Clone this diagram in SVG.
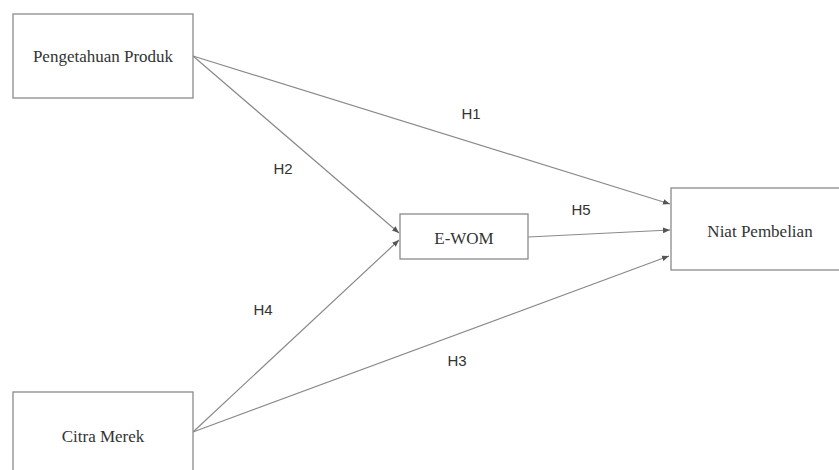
<svg xmlns="http://www.w3.org/2000/svg" width="839" height="470" viewBox="0 0 839 470">
<defs>
<marker id="arr" viewBox="0 0 10 10" refX="10" refY="5" markerWidth="7" markerHeight="7" orient="auto" markerUnits="userSpaceOnUse">
<path d="M0,1 L10,5 L0,9 z" fill="#555"/>
</marker>
<style>
.box{fill:#fff;stroke:#8a8a8a;stroke-width:1.3}
.nt{font-family:"Liberation Serif",serif;font-size:17px;fill:#333;text-anchor:middle;dominant-baseline:central}
.lbl{font-family:"Liberation Sans",sans-serif;font-size:15px;fill:#333;text-anchor:middle;dominant-baseline:central}
.edge{stroke:#8a8a8a;stroke-width:1.2;fill:none;marker-end:url(#arr)}
</style>
</defs>
<rect width="839" height="470" fill="#fff"/>
<g id="connectors">
<line class="edge" x1="193" y1="56" x2="670" y2="204"/>
<line class="edge" x1="193" y1="56" x2="399" y2="233"/>
<line class="edge" x1="528" y1="237" x2="670" y2="230"/>
<line class="edge" x1="193" y1="432" x2="399" y2="240"/>
<line class="edge" x1="193" y1="432" x2="669" y2="256"/>
</g>
<g id="labels">
<text class="lbl" x="471" y="113">H1</text>
<text class="lbl" x="283" y="168">H2</text>
<text class="lbl" x="581" y="209">H5</text>
<text class="lbl" x="263" y="309">H4</text>
<text class="lbl" x="457" y="360">H3</text>
</g>
<g id="node-pengetahuan">
<rect class="box" x="13" y="14" width="180" height="84"/>
<text class="nt" x="103" y="56">Pengetahuan Produk</text>
</g>
<g id="node-ewom">
<rect class="box" x="400" y="214" width="128" height="45"/>
<text class="nt" x="464" y="238">E-WOM</text>
</g>
<g id="node-niat">
<rect class="box" x="671" y="188" width="180" height="82"/>
<text class="nt" x="760" y="231">Niat Pembelian</text>
</g>
<g id="node-citra">
<rect class="box" x="13" y="392" width="180" height="90"/>
<text class="nt" x="103" y="436">Citra Merek</text>
</g>
</svg>
